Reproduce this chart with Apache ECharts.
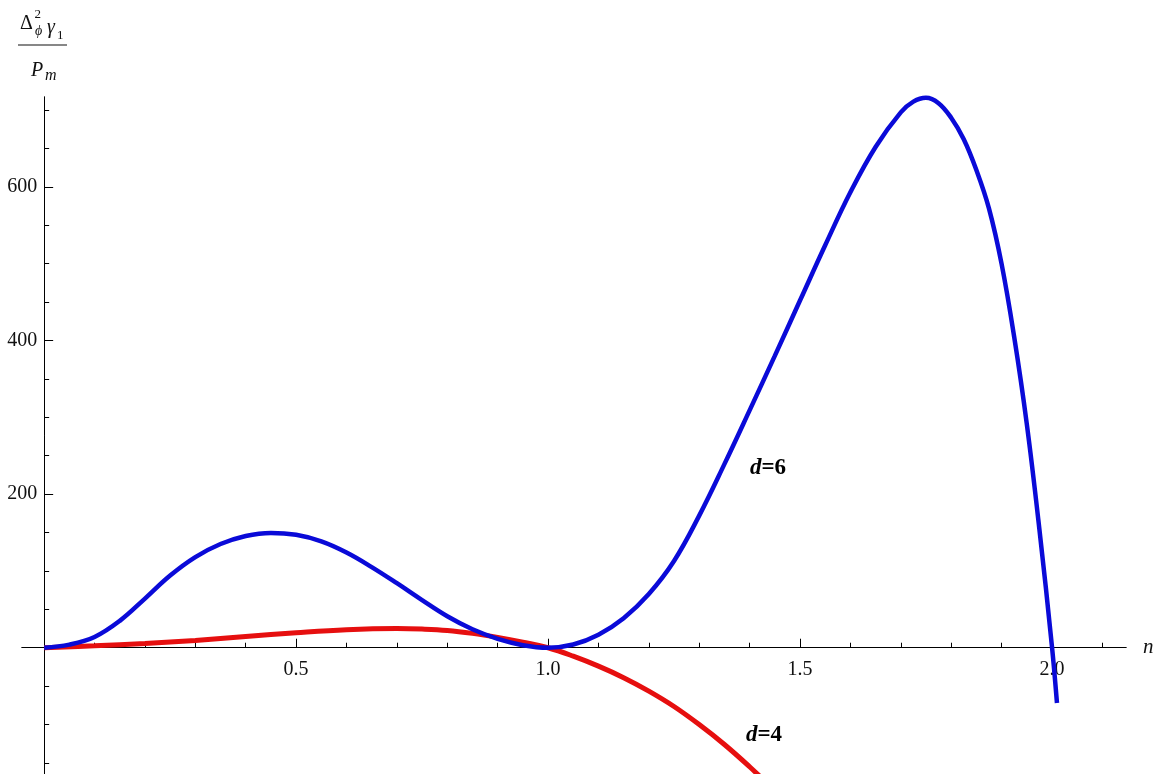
<!DOCTYPE html>
<html><head><meta charset="utf-8">
<script src="https://cdn.jsdelivr.net/npm/echarts@6/dist/echarts.min.js"></script>
<style>html,body{margin:0;padding:0;background:#fff}#c{width:1170px;height:774px}</style>
</head><body><div id="c"></div>
<script>
// d=6 curve (blue)
const nBlue = [0, 0.05, 0.1, 0.15, 0.2, 0.25, 0.3, 0.35, 0.4, 0.45, 0.5, 0.55, 0.6, 0.65, 0.7, 0.75, 0.8, 0.85, 0.9, 0.95, 1.0, 1.05, 1.1, 1.15, 1.2, 1.25, 1.3, 1.35, 1.4, 1.45, 1.5, 1.55, 1.6, 1.65, 1.7, 1.725, 1.75, 1.775, 1.8, 1.825, 1.85, 1.875, 1.9, 1.925, 1.95, 1.975, 2.0, 2.01];
const vBlue = [0, 4, 14, 35, 64, 94, 118, 135, 145.5, 149.5, 147, 138.5, 124, 105, 84, 62, 41, 24, 11.5, 3.3, 0, 4.2, 17, 38.5, 70, 113, 172, 239, 309, 380, 452, 524, 593, 652, 697, 711, 716, 709, 690, 662, 622, 572, 500, 405, 292, 155, 2, -72];
// d=4 curve (red)
const nRed = [0, 0.1, 0.2, 0.3, 0.4, 0.5, 0.6, 0.7, 0.75, 0.8, 0.85, 0.9, 0.95, 1.0, 1.05, 1.1, 1.15, 1.2, 1.25, 1.3, 1.35, 1.4, 1.45];
const vRed = [0, 2.5, 5.5, 9.5, 14.5, 19.5, 23.5, 25, 24.3, 22.5, 18.7, 13.5, 7.3, 0, -11, -24, -39, -56.5, -76.5, -100, -126, -155, -186];
// ticks
const xMajorTicks = [0.5, 1.0, 1.5, 2.0];
const xMinorTicks = [0.1, 0.2, 0.3, 0.4, 0.6, 0.7, 0.8, 0.9, 1.1, 1.2, 1.3, 1.4, 1.6, 1.7, 1.8, 1.9, 2.1];
const yMajorTicks = [200, 400, 600];
const yMinorTicks = [-150, -100, -50, 50, 100, 150, 250, 300, 350, 450, 500, 550, 650, 700];
const curveLabels = ['d=6', 'd=4'];

const serif = 'Liberation Serif';
const ink = '#111';
const blueData = nBlue.map((n, i) => [n, vBlue[i]]);
const redData = nRed.map((n, i) => [n, vRed[i]]);

const X_MIN = -0.044, X_MAX = 2.147, Y_MIN = -164.4, Y_MAX = 717;
const G = {left: 22, right: 44, top: 97, bottom: 0};
const gridW = 1170 - G.left - G.right, gridH = 774 - G.top - G.bottom;
// put the axes through the origin with offsets (instead of onZero)
const xOff = -gridH * (0 - Y_MIN) / (Y_MAX - Y_MIN);
const yOff = -gridW * (0 - X_MIN) / (X_MAX - X_MIN);

const axisLine = {onZero: false, lineStyle: {color: '#000', width: 1}};
const labelStyle = {fontFamily: serif, fontSize: 20, color: ink};

function lbl(txt) {
  const parts = txt.split('=');
  return '{i|' + parts[0] + '}{b|=' + parts[1] + '}';
}
const rich = {
  i: {fontFamily: serif, fontStyle: 'italic', fontWeight: 'bold', fontSize: 23, color: '#000'},
  b: {fontFamily: serif, fontWeight: 'bold', fontSize: 23, color: '#000'}
};

const chart = echarts.init(document.getElementById('c'));
chart.setOption({
  animation: false,
  backgroundColor: '#fff',
  grid: Object.assign({outerBoundsMode: 'none', containLabel: false}, G),
  xAxis: [
    {type: 'value', position: 'bottom', offset: xOff, min: X_MIN, max: X_MAX, axisLine: axisLine,
     axisTick: {show: true, inside: true, length: 9, customValues: xMajorTicks, lineStyle: {color: '#000'}},
     axisLabel: Object.assign({customValues: xMajorTicks, margin: 12, formatter: v => v.toFixed(1)}, labelStyle),
     splitLine: {show: false},
     name: 'n', nameLocation: 'end', nameGap: 17,
     nameTextStyle: {fontFamily: serif, fontStyle: 'italic', fontSize: 21, color: ink, verticalAlign: 'middle'}},
    {type: 'value', position: 'bottom', offset: xOff, min: X_MIN, max: X_MAX, axisLine: axisLine,
     axisTick: {show: true, inside: true, length: 5, customValues: xMinorTicks, lineStyle: {color: '#000'}},
     axisLabel: {show: false}, splitLine: {show: false}}
  ],
  yAxis: [
    {type: 'value', position: 'left', offset: yOff, min: Y_MIN, max: Y_MAX, axisLine: axisLine,
     axisTick: {show: true, inside: true, length: 9, customValues: yMajorTicks, lineStyle: {color: '#000'}},
     axisLabel: Object.assign({customValues: yMajorTicks, margin: 7}, labelStyle),
     splitLine: {show: false}},
    {type: 'value', position: 'left', offset: yOff, min: Y_MIN, max: Y_MAX, axisLine: axisLine,
     axisTick: {show: true, inside: true, length: 5, customValues: yMinorTicks, lineStyle: {color: '#000'}},
     axisLabel: {show: false}, splitLine: {show: false}}
  ],
  series: [
    {type: 'line', name: 'd=4', data: redData, smooth: 0.4, showSymbol: false, clip: true,
     lineStyle: {color: '#e60f0f', width: 5}, itemStyle: {color: '#e60f0f'},
     markPoint: {symbol: 'circle', symbolSize: 1, itemStyle: {color: 'rgba(0,0,0,0)'},
       label: {show: true, position: 'inside', formatter: lbl(curveLabels[1]), rich: rich},
       data: [{coord: [1.4286, -114.3]}]}},
    {type: 'line', name: 'd=6', data: blueData, smooth: 0.4, showSymbol: false, clip: true,
     lineStyle: {color: '#0a0ad8', width: 4.5}, itemStyle: {color: '#0a0ad8'},
     markPoint: {symbol: 'circle', symbolSize: 1, itemStyle: {color: 'rgba(0,0,0,0)'},
       label: {show: true, position: 'inside', formatter: lbl(curveLabels[0]), rich: rich},
       data: [{coord: [1.4365, 234]}]}}
  ],
  graphic: [
    {type: 'text', left: 20, top: 14, style: {text: 'Δ', font: '20px "Liberation Serif"', fill: ink}},
    {type: 'text', left: 34.5, top: 8, style: {text: '2', font: '13px "Liberation Serif"', fill: ink}},
    {type: 'text', left: 35, top: 24, style: {text: 'ϕ', font: 'italic 14px "Liberation Serif"', fill: ink}},
    {type: 'text', left: 47, top: 18, style: {text: 'γ', font: 'italic 20px "Liberation Serif"', fill: ink}},
    {type: 'text', left: 57, top: 29, style: {text: '1', font: '13px "Liberation Serif"', fill: ink}},
    {type: 'line', shape: {x1: 18, y1: 45, x2: 67, y2: 45}, style: {stroke: ink, lineWidth: 1.2}},
    {type: 'text', left: 31, top: 61, style: {text: 'P', font: 'italic 20px "Liberation Serif"', fill: ink}},
    {type: 'text', left: 45, top: 68, style: {text: 'm', font: 'italic 16px "Liberation Serif"', fill: ink}}
  ]
});
</script></body></html>
